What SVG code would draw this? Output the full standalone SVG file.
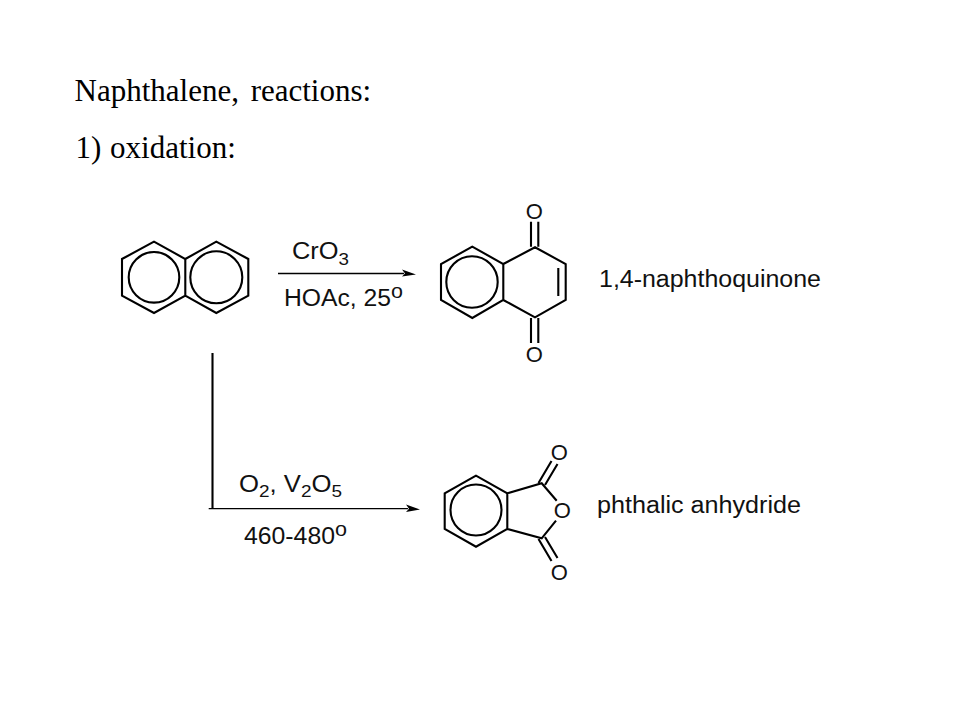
<svg xmlns="http://www.w3.org/2000/svg" width="960" height="720" viewBox="0 0 960 720">
<style>
.b{fill:none;stroke:#000;stroke-width:2.1;stroke-linejoin:miter}
.a{fill:none;stroke:#000;stroke-width:1.3}
.h{fill:#000;stroke:none}
.t{font-family:"Liberation Serif","Times New Roman",serif;font-size:31px;fill:#000}
.s{font-family:"Liberation Sans",Arial,sans-serif;font-size:23px;fill:#111}
.o{font-size:22px}
.sub{font-size:17px}
.sup{font-size:20px}
</style>
<rect width="960" height="720" fill="#fff"/>
<g id="title">
<text class="t" x="74.5" y="100.5" word-spacing="4">Naphthalene, reactions:</text>
<text class="t" x="75.5" y="157.5" word-spacing="1">1) oxidation:</text>
</g>
<g id="naphthalene">
<path class="b" d="M154 241.7L122 259V295.7L154 313L185.3 295.7V259ZM185.3 259L216.3 241.7L248.3 259V295.7L216.3 313L185.3 295.7"/>
<circle class="b" cx="154" cy="277.3" r="25.3"/>
<circle class="b" cx="216.3" cy="277.3" r="26"/>
</g>
<g id="naphthoquinone">
<path class="b" d="M472.3 246.7L441 264V300L472.3 318L503.3 300V264ZM503.3 264L535 247.3L565.7 264V300L535 317.3L503.3 300"/>
<circle class="b" cx="472" cy="282" r="25.7"/>
<path class="b" d="M558.3 268V296M531 221.7V246.7M538.3 221.7V246.7M531 318V343M538.3 318V343"/>
<text class="s o" x="534.3" y="219.2" text-anchor="middle">O</text>
<text class="s o" x="534.3" y="362.2" text-anchor="middle">O</text>
<text class="s" x="599" y="287" textLength="222" lengthAdjust="spacingAndGlyphs">1,4-naphthoquinone</text>
</g>
<g id="phthalic-anhydride">
<path class="b" d="M476 475.7L444.7 493.3V529L476 546.7L507.3 529V493.3ZM507.3 493.3L541.7 483.3L556.7 500.7M507.3 529L541.7 538.3L556 520.7"/>
<circle class="b" cx="476" cy="510" r="25.5"/>
<path class="b" d="M538.5 483L551.5 461M545 485L557.5 464M538.5 539L551.5 561M545 537L557.5 558"/>
<text class="s o" x="559.3" y="459.7" text-anchor="middle">O</text>
<text class="s o" x="562.3" y="518.3" text-anchor="middle">O</text>
<text class="s o" x="559.3" y="579.7" text-anchor="middle">O</text>
<text class="s" x="597" y="513" textLength="204" lengthAdjust="spacingAndGlyphs">phthalic anhydride</text>
</g>
<g id="connectors">
<path class="a" d="M278 273.5H404"/>
<path class="h" d="M402 269.5L416 274.5L402 276.5L405 273.5Z"/>
<path class="b" d="M212.5 353V508"/>
<path class="a" d="M208.7 508.7H408"/>
<path class="h" d="M406 504.5L420 509.5L406 512L409 508.7Z"/>
</g>
<g id="labels">
<text class="s" x="292" y="259" textLength="57" lengthAdjust="spacingAndGlyphs">CrO<tspan class="sub" dy="6">3</tspan></text>
<text class="s" x="284" y="305.5" textLength="119" lengthAdjust="spacingAndGlyphs">HOAc, 25<tspan class="sup" dy="-8">o</tspan></text>
<text class="s" x="239" y="491.5" textLength="103" lengthAdjust="spacingAndGlyphs">O<tspan class="sub" dy="5.7">2</tspan><tspan dy="-5.7">, V</tspan><tspan class="sub" dy="5.7">2</tspan><tspan dy="-5.7">O</tspan><tspan class="sub" dy="5.7">5</tspan></text>
<text class="s" x="244" y="544" textLength="103" lengthAdjust="spacingAndGlyphs">460-480<tspan class="sup" dy="-8">o</tspan></text>
</g>
</svg>
